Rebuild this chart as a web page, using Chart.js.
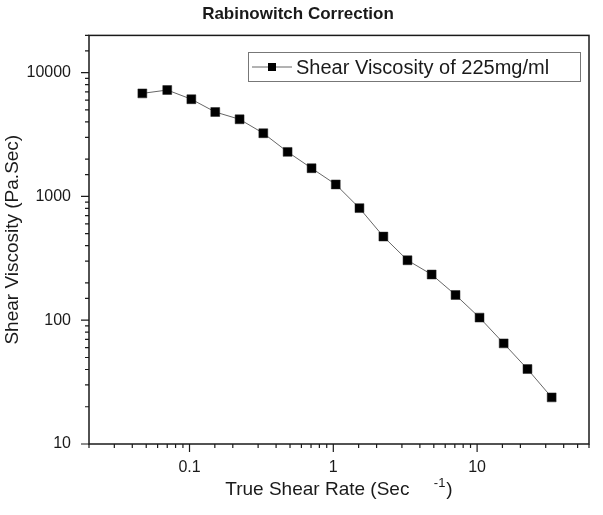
<!DOCTYPE html>
<html>
<head>
<meta charset="utf-8">
<script src="https://cdn.jsdelivr.net/npm/chart.js@4/dist/chart.umd.min.js"></script>
<style>
  html, body { margin: 0; padding: 0; background: #fff; }
  #wrap { width: 603px; height: 515px; }
</style>
</head>
<body>
<div id="wrap"><canvas id="rabChart"></canvas></div>
<script>
// data
const shearRate = [0.047, 0.070, 0.103, 0.151, 0.223, 0.326, 0.481, 0.706, 1.04, 1.52,
                   2.23, 3.28, 4.83, 7.08, 10.4, 15.3, 22.4, 33.0];
const viscosity = [6800, 7240, 6100, 4810, 4200, 3240, 2290, 1690, 1250, 805,
                   474, 305, 234, 160, 105, 65, 40.3, 23.8];
const xMajorLabels = ["0.1", "1", "10"];
const yMajorLabels = ["10", "100", "1000", "10000"];
const seriesName = "Shear Viscosity of 225mg/ml";

const FONT = "'Liberation Sans', Arial, sans-serif";
const INK = "#1a1a1a";

const isDecade = v => Math.abs(Math.log10(v) - Math.round(Math.log10(v))) < 1e-6;

// frame + outward ticks (major long, minor short)
const framePlugin = {
  id: "frame",
  afterDraw(chart) {
    const { ctx, chartArea: a } = chart;
    ctx.save();
    ctx.strokeStyle = INK;
    ctx.lineWidth = 1.5;
    ctx.strokeRect(a.left, a.top, a.right - a.left, a.bottom - a.top);
    ctx.lineWidth = 1.2;
    const xs = chart.scales.x, ys = chart.scales.y;
    ctx.beginPath();
    xs.ticks.forEach(t => {
      const px = xs.getPixelForValue(t.value);
      const len = isDecade(t.value) ? 8 : 4;
      ctx.moveTo(px, a.bottom);
      ctx.lineTo(px, a.bottom + len);
    });
    ys.ticks.forEach(t => {
      const py = ys.getPixelForValue(t.value);
      const len = isDecade(t.value) ? 8 : 4;
      ctx.moveTo(a.left, py);
      ctx.lineTo(a.left - len, py);
    });
    ctx.stroke();

    // superscript of the x title
    const title = xs.options.title;
    ctx.font = "19px " + FONT;
    const full = ctx.measureText(title.text).width;
    const closeX = (a.left + a.right) / 2 + full / 2 - ctx.measureText(")").width;
    const ty = xs.bottom - (title.padding.bottom + 19 * 1.2 / 2);
    ctx.font = "13px " + FONT;
    ctx.fillStyle = INK;
    ctx.textAlign = "right";
    ctx.textBaseline = "middle";
    ctx.fillText("-1", closeX - 1, ty - 6);
    ctx.restore();
  }
};

// boxed legend inside the plot, top right
const legendPlugin = {
  id: "boxLegend",
  afterDraw(chart) {
    const { ctx } = chart;
    const bx = 248, by = 52, bw = 332, bh = 29;
    ctx.save();
    ctx.fillStyle = "#fff";
    ctx.fillRect(bx, by, bw, bh);
    ctx.strokeStyle = "#777";
    ctx.lineWidth = 1;
    ctx.strokeRect(bx + 0.5, by + 0.5, bw, bh);
    const cy = by + bh / 2 + 0.5;
    ctx.strokeStyle = "#666";
    ctx.beginPath();
    ctx.moveTo(bx + 4, cy);
    ctx.lineTo(bx + 44, cy);
    ctx.stroke();
    ctx.fillStyle = "#000";
    ctx.fillRect(bx + 20, cy - 4, 8, 8);
    ctx.fillStyle = INK;
    ctx.font = "20px " + FONT;
    ctx.textAlign = "left";
    ctx.textBaseline = "middle";
    ctx.fillText(seriesName, bx + 48, cy + 1);
    ctx.restore();
  }
};

new Chart(document.getElementById("rabChart"), {
  type: "line",
  data: {
    datasets: [{
      label: seriesName,
      data: shearRate.map((x, i) => ({ x: x, y: viscosity[i] })),
      borderColor: "#666",
      borderWidth: 1,
      pointStyle: "rect",
      pointRadius: 6.3,
      pointBackgroundColor: "#000",
      pointBorderColor: "#222",
      pointBorderWidth: 0.5,
      tension: 0
    }]
  },
  options: {
    responsive: true,
    maintainAspectRatio: false,
    animation: false,
    layout: { padding: { left: 0, right: 7, top: 0, bottom: 0 } },
    plugins: {
      legend: { display: false },
      tooltip: { enabled: false },
      title: {
        display: true,
        text: "Rabinowitch Correction",
        color: INK,
        font: { family: FONT, size: 17, weight: "bold" },
        padding: { top: 4, bottom: 11 }
      }
    },
    scales: {
      x: {
        type: "logarithmic",
        min: 0.02,
        max: 60,
        grid: { display: false, drawTicks: false },
        border: { display: false },
        afterFit(s) { s.height = 71; },
        ticks: {
          autoSkip: false,
          maxRotation: 0,
          color: INK,
          padding: 14,
          font: { family: FONT, size: 16 },
          callback(v) {
            const s = String(Number(v.toPrecision(6)));
            return xMajorLabels.includes(s) ? s : "";
          }
        },
        title: {
          display: true,
          text: "True Shear Rate (Sec       )",
          color: INK,
          font: { family: FONT, size: 19 },
          padding: { top: 0, bottom: 14 }
        }
      },
      y: {
        type: "logarithmic",
        min: 10,
        max: 20000,
        grid: { display: false, drawTicks: false },
        border: { display: false },
        afterFit(s) { s.width = 89; },
        ticks: {
          autoSkip: false,
          color: INK,
          padding: 18,
          font: { family: FONT, size: 16 },
          callback(v) {
            const s = String(Number(v.toPrecision(6)));
            return yMajorLabels.includes(s) ? s : "";
          }
        },
        title: {
          display: true,
          text: "Shear Viscosity (Pa.Sec)",
          color: INK,
          font: { family: FONT, size: 19 },
          padding: { top: 1, bottom: 0 }
        }
      }
    }
  },
  plugins: [framePlugin, legendPlugin]
});
</script>
</body>
</html>
